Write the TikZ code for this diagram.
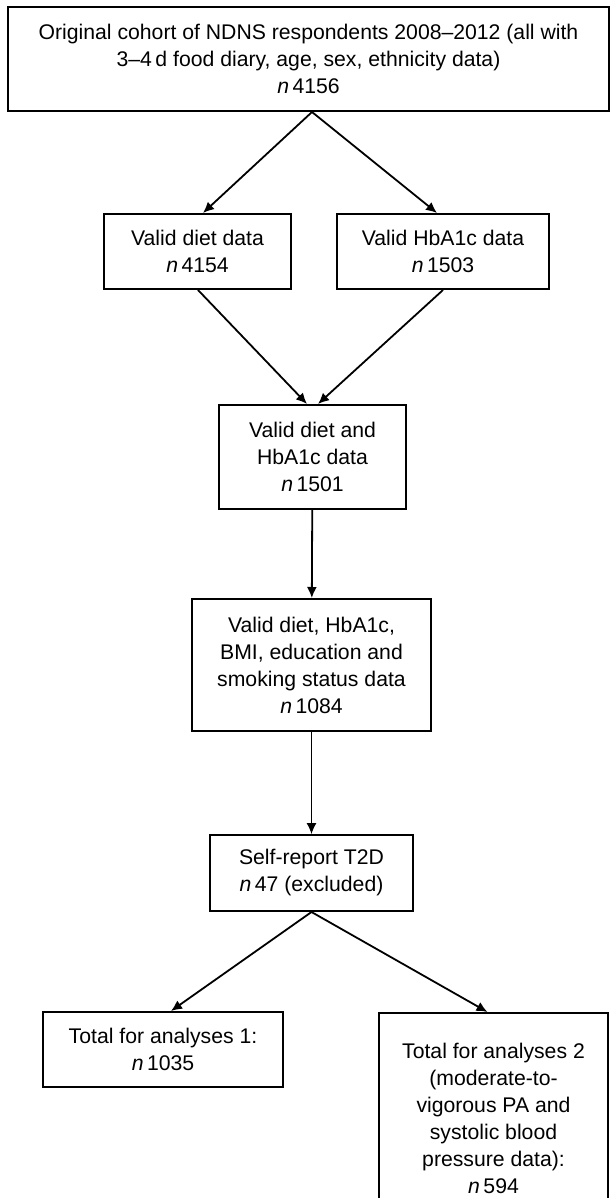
\documentclass[tikz,border=0pt]{standalone}
\usepackage{fontspec}
\setmainfont{Liberation Sans}
\usetikzlibrary{arrows.meta}
\tikzset{
    normal/.style={draw, semithick},
    box/.style={style=normal, line width=1pt, align=center, inner sep=1mm, font=\fontsize{10.6}{13.5}\selectfont}, % boxes of the flow chart
    e/.style={style=normal, line width=0.9pt, ->, >={Latex[length=5.5pt, width=5pt]}}, % arrow between boxes
    te/.style={style=e, line width=0.5pt} % thinner arrow
}

\begin{document}
\begin{tikzpicture}[x=0.5pt, y=-0.5pt]
        \clip (0, 0) rectangle (610, 1198);

        \node[box, minimum width=300.5pt, minimum height=52pt] (cohort) at (308.5, 59)
            {Original cohort of NDNS respondents 2008–2012 (all with\\ 3–4\,d food diary, age, sex, ethnicity data)\\ \textit{n}\,4156};

        \node[box, minimum width=93.5pt, minimum height=37.5pt] (diet) at (197.5, 251.5)
            {Valid diet data\\ \textit{n}\,4154};
        \node[box, minimum width=106pt, minimum height=37.5pt] (hba1c) at (443, 251.5)
            {Valid HbA1c data\\ \textit{n}\,1503};

        \node[box, minimum width=93.5pt, minimum height=52pt] (both) at (312.5, 457)
            {Valid diet and\\ HbA1c data\\ \textit{n}\,1501};

        \node[box, minimum width=119.5pt, minimum height=66pt] (covars) at (311.5, 665)
            {Valid diet, HbA1c,\\ BMI, education and\\ smoking status data\\ \textit{n}\,1084};

        \node[box, minimum width=101.5pt, minimum height=38pt] (t2d) at (311.5, 873)
            {Self-report T2D\\ \textit{n}\,47 (excluded)};

        \node[box, minimum width=120pt, minimum height=37.5pt] (total1) at (163, 1049.5)
            {Total for analyses 1:\\ \textit{n}\,1035};
        \node[box, minimum width=114.5pt, minimum height=105pt] (total2) at (493.5, 1118)
            {Total for analyses 2\\ (moderate-to-\\ vigorous PA and\\ systolic blood\\ pressure data):\\ \textit{n}\,594};

        \draw[e] ([xshift=1.75pt]cohort.south) to ([xshift=2.75pt]diet.north);
        \draw[e] ([xshift=1.75pt]cohort.south) to ([xshift=-3pt]hba1c.north);
        \draw[e] ([xshift=0.25pt]diet.south) to ([xshift=-2.75pt]both.north);
        \draw[e] (hba1c.south) to ([xshift=2.75pt]both.north);
        \draw[e] (both) to (covars);
        \draw[te] (covars) to (t2d);
        \draw[e] (t2d.south) to ([xshift=4pt]total1.north);
        \draw[e] (t2d.south) to ([xshift=-3pt]total2.north);
      \end{tikzpicture}
\end{document}
